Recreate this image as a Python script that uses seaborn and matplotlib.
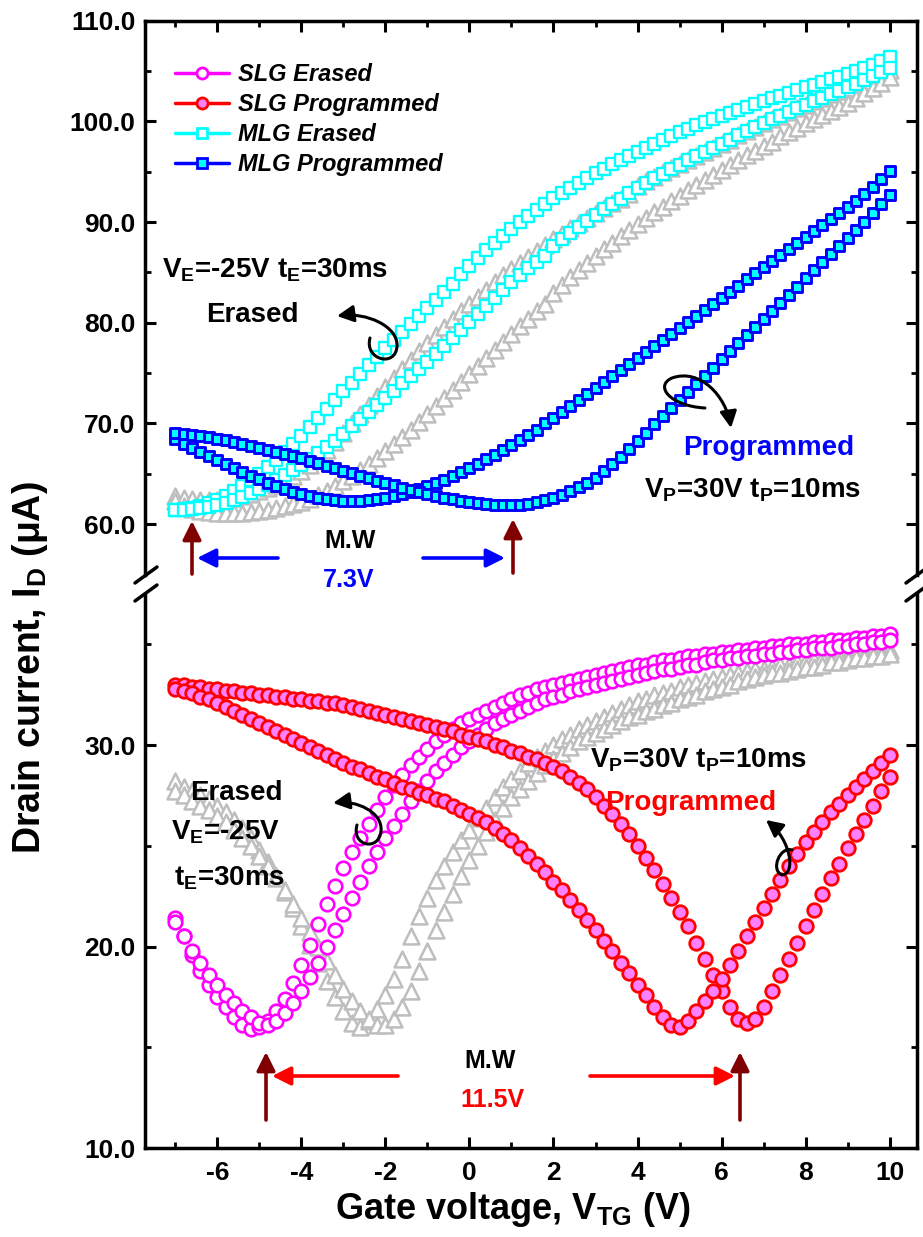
import numpy as np
import pandas as pd
import matplotlib
matplotlib.use("Agg")
import matplotlib.pyplot as plt
import seaborn as sns
from matplotlib.lines import Line2D
from matplotlib.patches import FancyArrowPatch
from matplotlib.path import Path
from matplotlib.ticker import MultipleLocator, FixedLocator, FormatStrFormatter

sns.set_theme(style="ticks")
plt.rcParams.update({
    "font.family": ["Liberation Sans", "DejaVu Sans"],
    "font.weight": "bold",
    "axes.unicode_minus": False,
    "mathtext.fontset": "custom",
    "mathtext.rm": "Liberation Sans:bold",
    "mathtext.it": "Liberation Sans:bold:italic",
    "mathtext.bf": "Liberation Sans:bold",
    "mathtext.default": "rm",
    "axes.linewidth": 2.5,
    "axes.edgecolor": "black",
    "xtick.color": "black",
    "ytick.color": "black",
    "text.color": "black",
    "axes.facecolor": "white",
    "figure.facecolor": "white",
})

# ---------------------------------------------------------------- data
gate_v = [-7.0, -6.8, -6.6, -6.4, -6.2, -6.0, -5.8, -5.6, -5.4, -5.2,
          -5.0, -4.8, -4.6, -4.4, -4.2, -4.0, -3.8, -3.6, -3.4, -3.2,
          -3.0, -2.8, -2.6, -2.4, -2.2, -2.0, -1.8, -1.6, -1.4, -1.2,
          -1.0, -0.8, -0.6, -0.4, -0.2, 0.0, 0.2, 0.4, 0.6, 0.8,
          1.0, 1.2, 1.4, 1.6, 1.8, 2.0, 2.2, 2.4, 2.6, 2.8,
          3.0, 3.2, 3.4, 3.6, 3.8, 4.0, 4.2, 4.4, 4.6, 4.8,
          5.0, 5.2, 5.4, 5.6, 5.8, 6.0, 6.2, 6.4, 6.6, 6.8,
          7.0, 7.2, 7.4, 7.6, 7.8, 8.0, 8.2, 8.4, 8.6, 8.8,
          9.0, 9.2, 9.4, 9.6, 9.8, 10.0]

# single-layer graphene, erased state (two sweeps), uA
slg_erased_1 = [21.4, 20.5, 19.6, 18.8, 18.1, 17.5, 17.0, 16.5, 16.1, 15.9,
                16.0, 16.3, 16.8, 17.4, 18.2, 19.1, 20.1, 21.1, 22.1, 23.0,
                23.9, 24.7, 25.4, 26.1, 26.8, 27.4, 28.0, 28.5, 29.0, 29.4,
                29.8, 30.2, 30.5, 30.8, 31.1, 31.3, 31.5, 31.7, 31.9, 32.1,
                32.3, 32.5, 32.6, 32.8, 32.9, 33.0, 33.1, 33.2, 33.3, 33.4,
                33.5, 33.6, 33.7, 33.8, 33.9, 34.0, 34.0, 34.1, 34.2, 34.2,
                34.3, 34.4, 34.4, 34.5, 34.5, 34.6, 34.6, 34.7, 34.7, 34.8,
                34.8, 34.9, 34.9, 35.0, 35.0, 35.0, 35.1, 35.1, 35.2, 35.2,
                35.2, 35.3, 35.3, 35.4, 35.4, 35.5]
slg_erased_2 = [21.2, 20.5, 19.8, 19.2, 18.6, 18.1, 17.6, 17.2, 16.8, 16.5,
                16.2, 16.1, 16.3, 16.7, 17.2, 17.8, 18.5, 19.2, 20.0, 20.8,
                21.6, 22.4, 23.2, 24.0, 24.7, 25.4, 26.0, 26.6, 27.2, 27.7,
                28.2, 28.7, 29.1, 29.5, 29.9, 30.2, 30.5, 30.8, 31.1, 31.3,
                31.5, 31.7, 31.9, 32.1, 32.3, 32.4, 32.5, 32.7, 32.8, 32.9,
                33.0, 33.1, 33.2, 33.3, 33.4, 33.5, 33.6, 33.7, 33.8, 33.8,
                33.9, 34.0, 34.0, 34.1, 34.2, 34.2, 34.3, 34.3, 34.4, 34.4,
                34.5, 34.5, 34.6, 34.6, 34.7, 34.7, 34.8, 34.8, 34.8, 34.9,
                34.9, 35.0, 35.0, 35.1, 35.1, 35.2]

# single-layer graphene, programmed state (two sweeps)
slg_prog_1 = [33.0, 33.0, 32.9, 32.9, 32.8, 32.8, 32.7, 32.7, 32.6, 32.6,
              32.5, 32.5, 32.4, 32.4, 32.3, 32.3, 32.2, 32.2, 32.1, 32.1,
              32.0, 31.9, 31.8, 31.7, 31.6, 31.5, 31.4, 31.3, 31.2, 31.1,
              31.0, 30.9, 30.8, 30.7, 30.5, 30.4, 30.3, 30.2, 30.0, 29.9,
              29.7, 29.6, 29.4, 29.3, 29.1, 28.9, 28.7, 28.4, 28.1, 27.8,
              27.4, 27.0, 26.6, 26.1, 25.6, 25.0, 24.4, 23.8, 23.1, 22.4,
              21.7, 21.0, 20.2, 19.4, 18.6, 17.8, 17.0, 16.4, 16.2, 16.4,
              17.0, 17.8, 18.6, 19.4, 20.2, 21.0, 21.8, 22.6, 23.4, 24.1,
              24.9, 25.6, 26.3, 27.0, 27.7, 28.4]
slg_prog_2 = [32.8, 32.7, 32.6, 32.4, 32.3, 32.1, 31.9, 31.7, 31.5, 31.3,
              31.1, 30.9, 30.7, 30.5, 30.3, 30.1, 29.9, 29.7, 29.5, 29.3,
              29.1, 28.9, 28.8, 28.6, 28.4, 28.3, 28.1, 27.9, 27.8, 27.6,
              27.5, 27.3, 27.2, 27.0, 26.8, 26.6, 26.4, 26.2, 25.9, 25.6,
              25.3, 24.9, 24.5, 24.1, 23.7, 23.2, 22.8, 22.3, 21.8, 21.3,
              20.8, 20.3, 19.8, 19.2, 18.7, 18.1, 17.6, 17.0, 16.5, 16.1,
              16.0, 16.3, 16.8, 17.3, 17.8, 18.4, 19.1, 19.8, 20.5, 21.2,
              21.9, 22.6, 23.3, 24.0, 24.6, 25.2, 25.7, 26.2, 26.7, 27.1,
              27.5, 27.9, 28.3, 28.7, 29.1, 29.5]

# single-layer graphene, initial transfer curve (two sweeps)
slg_initial_1 = [28.2, 27.9, 27.7, 27.5, 27.3, 27.0, 26.7, 26.3, 25.9, 25.4,
                 24.8, 24.2, 23.5, 22.7, 21.9, 21.0, 20.1, 19.2, 18.3, 17.5,
                 16.8, 16.2, 16.0, 16.3, 16.9, 17.6, 18.4, 19.4, 20.5, 21.5,
                 22.4, 23.3, 24.0, 24.7, 25.3, 25.8, 26.4, 26.9, 27.4, 27.9,
                 28.3, 28.7, 29.1, 29.4, 29.7, 30.0, 30.3, 30.5, 30.8, 31.0,
                 31.2, 31.4, 31.6, 31.8, 32.0, 32.2, 32.3, 32.5, 32.6, 32.7,
                 32.9, 33.0, 33.1, 33.2, 33.3, 33.4, 33.5, 33.6, 33.7, 33.8,
                 33.8, 33.9, 34.0, 34.0, 34.1, 34.2, 34.2, 34.3, 34.3, 34.4,
                 34.4, 34.5, 34.5, 34.6, 34.6, 34.7]
slg_initial_2 = [27.7, 27.5, 27.2, 27.0, 26.8, 26.5, 26.2, 25.8, 25.4, 25.0,
                 24.5, 24.0, 23.4, 22.8, 22.1, 21.4, 20.7, 20.0, 19.3, 18.6,
                 17.9, 17.3, 16.8, 16.4, 16.1, 16.1, 16.4, 17.0, 17.8, 18.8,
                 19.8, 20.8, 21.7, 22.6, 23.5, 24.3, 25.0, 25.7, 26.3, 26.9,
                 27.4, 27.8, 28.2, 28.6, 29.0, 29.3, 29.6, 29.9, 30.2, 30.4,
                 30.6, 30.8, 31.0, 31.2, 31.4, 31.5, 31.7, 31.8, 32.0, 32.1,
                 32.3, 32.4, 32.5, 32.7, 32.8, 32.9, 33.0, 33.2, 33.3, 33.4,
                 33.5, 33.6, 33.6, 33.7, 33.8, 33.9, 33.9, 34.0, 34.1, 34.1,
                 34.2, 34.3, 34.3, 34.4, 34.4, 34.5]

# multilayer graphene, erased state (two sweeps)
mlg_erased_1 = [61.4, 61.5, 61.6, 61.8, 62.1, 62.4, 62.8, 63.3, 63.8, 64.4,
                65.0, 65.7, 66.4, 67.2, 68.0, 68.8, 69.6, 70.5, 71.4, 72.3,
                73.2, 74.0, 74.9, 75.8, 76.6, 77.5, 78.3, 79.1, 79.9, 80.7,
                81.5, 82.3, 83.1, 83.9, 84.8, 85.6, 86.4, 87.2, 87.9, 88.6,
                89.3, 90.0, 90.6, 91.2, 91.8, 92.4, 92.9, 93.4, 93.9, 94.4,
                94.9, 95.3, 95.8, 96.2, 96.6, 97.0, 97.4, 97.8, 98.2, 98.5,
                98.9, 99.2, 99.6, 99.9, 100.2, 100.5, 100.8, 101.1, 101.4, 101.7,
                102.0, 102.3, 102.5, 102.8, 103.1, 103.4, 103.6, 103.9, 104.2, 104.4,
                104.7, 105.0, 105.3, 105.6, 106.0, 106.4]
mlg_erased_2 = [61.4, 61.4, 61.5, 61.6, 61.7, 61.9, 62.1, 62.4, 62.7, 63.1,
                63.5, 63.9, 64.4, 64.9, 65.4, 65.9, 66.5, 67.1, 67.7, 68.3,
                69.0, 69.7, 70.4, 71.1, 71.8, 72.5, 73.2, 74.0, 74.7, 75.4,
                76.1, 76.9, 77.7, 78.5, 79.3, 80.1, 80.9, 81.7, 82.5, 83.3,
                84.0, 84.7, 85.4, 86.0, 86.6, 87.6, 88.3, 88.9, 89.5, 90.1,
                90.7, 91.3, 91.8, 92.3, 92.9, 93.4, 93.9, 94.4, 94.8, 95.3,
                95.7, 96.2, 96.6, 97.0, 97.4, 97.8, 98.2, 98.6, 99.0, 99.4,
                99.8, 100.2, 100.5, 100.9, 101.3, 101.6, 102.0, 102.3, 102.7, 103.0,
                103.4, 103.7, 104.1, 104.5, 104.9, 105.3]

# multilayer graphene, programmed state (two sweeps)
mlg_prog_1 = [68.5, 68.0, 67.6, 67.2, 66.8, 66.4, 66.0, 65.6, 65.2, 64.8,
              64.5, 64.1, 63.8, 63.5, 63.2, 63.0, 62.8, 62.6, 62.5, 62.4,
              62.3, 62.3, 62.3, 62.4, 62.5, 62.6, 62.8, 63.0, 63.2, 63.5,
              63.8, 64.1, 64.4, 64.8, 65.2, 65.6, 66.0, 66.5, 66.9, 67.4,
              67.9, 68.4, 68.9, 69.4, 70.0, 70.5, 71.1, 71.7, 72.3, 72.9,
              73.5, 74.1, 74.7, 75.3, 75.9, 76.5, 77.1, 77.7, 78.3, 78.9,
              79.5, 80.1, 80.7, 81.3, 81.9, 82.5, 83.1, 83.7, 84.3, 84.9,
              85.5, 86.1, 86.7, 87.3, 87.9, 88.5, 89.1, 89.7, 90.3, 90.9,
              91.5, 92.1, 92.8, 93.5, 94.3, 95.1]
mlg_prog_2 = [69.1, 69.0, 68.9, 68.8, 68.7, 68.5, 68.4, 68.2, 68.0, 67.8,
              67.6, 67.4, 67.2, 67.0, 66.8, 66.6, 66.3, 66.1, 65.8, 65.6,
              65.3, 65.1, 64.8, 64.6, 64.3, 64.1, 63.9, 63.6, 63.4, 63.2,
              63.0, 62.8, 62.6, 62.5, 62.3, 62.2, 62.1, 62.0, 61.9, 61.9,
              61.9, 61.9, 62.0, 62.2, 62.4, 62.6, 62.9, 63.3, 63.7, 64.1,
              64.6, 65.3, 66.0, 66.7, 67.5, 68.3, 69.1, 69.9, 70.7, 71.5,
              72.3, 73.1, 73.9, 74.7, 75.5, 76.4, 77.2, 78.0, 78.8, 79.6,
              80.4, 81.2, 82.0, 82.8, 83.6, 84.4, 85.2, 86.0, 86.8, 87.6,
              88.4, 89.2, 90.0, 90.9, 91.8, 92.7]

# multilayer graphene, initial transfer curve (two sweeps)
mlg_initial_1 = [62.8, 62.6, 62.5, 62.4, 62.4, 62.4, 62.5, 62.6, 62.8, 63.0,
                 63.3, 63.6, 63.9, 64.3, 64.8, 65.3, 65.9, 66.6, 67.4, 68.2,
                 69.1, 70.0, 70.9, 71.8, 72.7, 73.6, 74.5, 75.4, 76.3, 77.2,
                 78.0, 78.8, 79.6, 80.4, 81.2, 81.9, 82.6, 83.3, 84.0, 84.7,
                 85.3, 85.9, 86.5, 87.1, 87.7, 88.3, 88.8, 89.4, 89.9, 90.4,
                 90.9, 91.4, 91.9, 92.3, 92.8, 93.6, 94.1, 94.5, 95.0, 95.4,
                 95.8, 96.2, 96.6, 97.0, 97.4, 97.8, 98.2, 98.6, 99.0, 99.4,
                 99.8, 100.2, 100.5, 100.9, 101.3, 101.6, 102.0, 102.3, 102.7, 103.0,
                 103.3, 103.7, 104.0, 104.4, 104.7, 105.1]
mlg_initial_2 = [62.3, 61.8, 61.5, 61.3, 61.2, 61.1, 61.1, 61.1, 61.1, 61.2,
                 61.3, 61.4, 61.6, 61.8, 62.0, 62.2, 62.5, 62.9, 63.3, 63.8,
                 64.3, 64.8, 65.4, 66.0, 66.6, 67.3, 68.0, 68.7, 69.4, 70.1,
                 70.9, 71.7, 72.5, 73.3, 74.1, 74.9, 75.7, 76.5, 77.3, 78.1,
                 78.9, 79.7, 80.4, 81.2, 81.9, 83.0, 83.8, 84.5, 85.2, 85.9,
                 86.6, 87.3, 87.9, 88.6, 89.2, 89.8, 90.4, 91.0, 91.5, 92.1,
                 92.6, 93.2, 93.7, 94.2, 94.7, 95.2, 95.7, 96.2, 96.7, 97.1,
                 97.6, 98.0, 98.5, 98.9, 99.3, 99.8, 100.2, 100.6, 101.0, 101.4,
                 101.8, 102.3, 102.8, 103.3, 103.8, 104.4]

legend_labels = ["SLG Erased", "SLG Programmed", "MLG Erased", "MLG Programmed"]
x_ticks = [-6, -4, -2, 0, 2, 4, 6, 8, 10]

# ---------------------------------------------------------------- styles
GRAY = "#BEBEBE"
MAGENTA = "#FF00FF"
RED = "#FF0000"
PINK = "#FF80FF"
CYAN = "#00FFFF"
BLUE = "#0000FF"
BROWN = "#800000"

style = {
    "initial": dict(marker="^", s=130, color="white", edgecolor=GRAY, linewidth=1.8),
    "slg_e": dict(marker="o", s=95, color="white", edgecolor=MAGENTA, linewidth=1.9),
    "slg_p": dict(marker="o", s=95, color=PINK, edgecolor=RED, linewidth=2.0),
    "mlg_e": dict(marker="s", s=68, color="white", edgecolor=CYAN, linewidth=1.7),
    "mlg_p": dict(marker="s", s=62, color=CYAN, edgecolor=BLUE, linewidth=2.1),
}

W, H = 923, 1237
fig = plt.figure(figsize=(W / 100, H / 100), dpi=100)


def fx(px):
    return px / W


def fy(py):
    return 1 - py / H


AX_L, AX_R = 145, 917
ax_top = fig.add_axes([fx(AX_L), fy(574.5), fx(AX_R) - fx(AX_L), fy(20.7) - fy(574.5)])
ax_bot = fig.add_axes([fx(AX_L), fy(1148), fx(AX_R) - fx(AX_L), fy(594) - fy(1148)])


def draw(ax, ys, key, z):
    for y in ys:
        sns.scatterplot(x=gate_v, y=y, ax=ax, legend=False, zorder=z, **style[key])


draw(ax_top, [mlg_initial_1, mlg_initial_2], "initial", 2)
draw(ax_top, [mlg_erased_1, mlg_erased_2], "mlg_e", 3)
draw(ax_top, [mlg_prog_1, mlg_prog_2], "mlg_p", 4)

draw(ax_bot, [slg_initial_1, slg_initial_2], "initial", 2)
draw(ax_bot, [slg_erased_1, slg_erased_2], "slg_e", 3)
draw(ax_bot, [slg_prog_1, slg_prog_2], "slg_p", 4)

# ---------------------------------------------------------------- axes
for ax in (ax_top, ax_bot):
    ax.set_xlim(-7.72, 10.65)
    ax.xaxis.set_major_locator(FixedLocator(x_ticks))
    ax.xaxis.set_minor_locator(MultipleLocator(1))
    ax.set_xlabel("")
    ax.set_ylabel("")
    ax.tick_params(which="major", direction="in", length=8, width=2.2,
                   left=True, right=True, labelsize=19, pad=7)
    ax.tick_params(which="minor", direction="in", length=4.5, width=2.0,
                   left=True, right=True)
    ax.yaxis.set_major_formatter(FormatStrFormatter("%.1f"))

ax_top.set_ylim(55, 110)
ax_top.yaxis.set_major_locator(FixedLocator([60, 70, 80, 90, 100, 110]))
ax_top.yaxis.set_minor_locator(FixedLocator([65, 75, 85, 95, 105]))
ax_top.spines["bottom"].set_visible(False)
ax_top.tick_params(axis="x", which="both", top=True, bottom=False, labelbottom=False)

ax_bot.set_ylim(10, 37.5)
ax_bot.yaxis.set_major_locator(FixedLocator([10, 20, 30]))
ax_bot.yaxis.set_minor_locator(FixedLocator([15, 25, 35]))
ax_bot.spines["top"].set_visible(False)
ax_bot.tick_params(axis="x", which="both", top=False, bottom=True, pad=9)

for ax in (ax_top, ax_bot):
    for lab in ax.get_xticklabels() + ax.get_yticklabels():
        lab.set_fontweight("bold")
        lab.set_fontsize(19)

# axis break marks
for xc in (AX_L + 1, AX_R):
    for yc in (575, 593):
        fig.add_artist(Line2D([fx(xc - 11), fx(xc + 11)], [fy(yc + 8), fy(yc - 8)],
                              color="black", lw=2.5, transform=fig.transFigure))

# axis titles
fig.text(fx(30), fy(668), "Drain current, I$_\\mathrm{D}$ (\u03bcA)", rotation=90,
         ha="center", va="center", fontsize=27, fontweight="bold")
fig.text(fx(513), fy(1219), "Gate voltage, V$_\\mathrm{TG}$ (V)",
         ha="center", va="baseline", fontsize=26, fontweight="bold")

# ---------------------------------------------------------------- legend
handles = [
    Line2D([], [], color=MAGENTA, lw=2.5, marker="o", markersize=8,
           markerfacecolor="white", markeredgecolor=MAGENTA, markeredgewidth=2),
    Line2D([], [], color=RED, lw=2.5, marker="o", markersize=8,
           markerfacecolor=PINK, markeredgecolor=RED, markeredgewidth=2),
    Line2D([], [], color=CYAN, lw=2.5, marker="s", markersize=7,
           markerfacecolor="white", markeredgecolor=CYAN, markeredgewidth=2),
    Line2D([], [], color=BLUE, lw=2.5, marker="s", markersize=7,
           markerfacecolor=CYAN, markeredgecolor=BLUE, markeredgewidth=2),
]
fig.legend(handles, legend_labels, loc="upper left", bbox_to_anchor=(fx(175), fy(63)),
           frameon=False, borderpad=0, borderaxespad=0, handlelength=2.3,
           handletextpad=0.35, labelspacing=0.3,
           prop=dict(style="italic", weight="bold", size=17))

# ---------------------------------------------------------------- annotations
def label(x, y, s, color="black", size=20):
    fig.text(fx(x), fy(y), s, ha="center", va="baseline", fontsize=size,
             fontweight="bold", color=color)


def arrow(p0, p1, color, lw=2.6, hl=0.7, hw=0.35, ms=16):
    fig.add_artist(FancyArrowPatch((fx(p0[0]), fy(p0[1])), (fx(p1[0]), fy(p1[1])),
                                   transform=fig.transFigure, color=color, lw=lw,
                                   arrowstyle=f"-|>,head_length={hl},head_width={hw}",
                                   mutation_scale=ms, shrinkA=0, shrinkB=0))


def curl(pts):
    verts = [(fx(x), fy(y)) for x, y in pts]
    codes = [Path.MOVETO] + [Path.CURVE4] * 6
    fig.add_artist(FancyArrowPatch(path=Path(verts, codes), transform=fig.transFigure,
                                   color="black", lw=2.2,
                                   arrowstyle="-|>,head_length=0.55,head_width=0.28",
                                   mutation_scale=18))


# upper panel
label(275, 278, "V$_\\mathrm{E}$=-25V t$_\\mathrm{E}$=30ms")
label(252, 322, "Erased")
label(769, 455, "Programmed", color=BLUE)
label(752, 497, "V$_\\mathrm{P}$=30V t$_\\mathrm{P}$=10ms")
label(350, 548, "M.W", size=18)
label(349, 587, "7.3V", color=BLUE, size=18)
arrow((278, 558), (197, 558), BLUE)
arrow((423, 558), (505, 558), BLUE)
arrow((192, 574), (192, 521), BROWN)
arrow((513, 573), (513, 519), BROWN)
curl([(370, 338), (364, 360), (396, 368), (397, 346),
      (398, 326), (366, 312), (337, 316)])
curl([(705, 408), (670, 406), (654, 386), (672, 378),
      (700, 368), (726, 396), (731, 428)])

# lower panel
label(698, 768, "V$_\\mathrm{P}$=30V t$_\\mathrm{P}$=10ms")
label(691, 810, "Programmed", color=RED)
label(236, 800, "Erased")
label(226, 840, "V$_\\mathrm{E}$=-25V")
label(230, 885, "t$_\\mathrm{E}$=30ms")
label(490, 1068, "M.W", size=18)
label(492, 1107, "11.5V", color=RED, size=18)
arrow((398, 1076), (272, 1076), RED)
arrow((590, 1076), (735, 1076), RED)
arrow((266, 1120), (266, 1052), BROWN)
arrow((740, 1120), (740, 1052), BROWN)
curl([(357, 825), (351, 846), (379, 852), (381, 831),
      (383, 812), (356, 800), (333, 803)])
curl([(792, 850), (780, 846), (770, 870), (782, 875),
      (796, 874), (791, 840), (766, 820)])

fig.savefig("out.png", dpi=100)
